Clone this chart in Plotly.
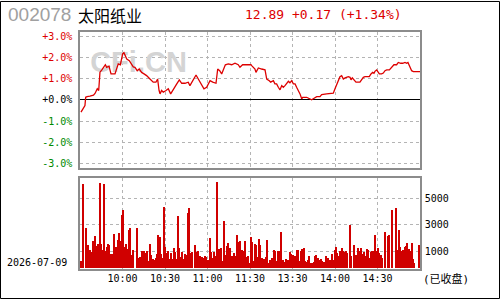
import plotly.graph_objects as go

# ---------------- data ----------------
stock_code = "002078"
stock_name = "太阳纸业"
last_price = 12.89
change = 0.17
change_pct = 1.34
prev_close = 12.72
trade_date = "2026-07-09"
status_text = "(已收盘)"

# minutes since 9:30 (trading minutes, lunch break removed) and % change vs prev close
price_t = [0.7, 2.8, 3.5, 4.0, 5.0, 7.0, 8.3, 9.5, 10.6, 11.5, 12.2, 13.2, 14.1, 15.3, 16.9,
           17.9, 18.8, 20.5, 21.2, 21.9, 24.7, 25.9, 27.0, 28.5, 30.1, 31.0, 31.7, 33.0, 34.8,
           36.5, 37.6, 38.8, 40.4, 41.8, 43.5, 45.2, 47.0, 49.4, 51.7, 53.6, 54.8, 55.8, 56.5,
           57.6, 58.8, 60.7, 62.3, 64.0, 65.9, 68.3, 70.1, 71.8, 74.1, 76.4, 77.6, 80.0, 81.9,
           83.5, 85.2, 87.5, 89.4, 91.8, 93.7, 96.0, 97.2, 98.6, 100.0, 101.6, 102.6, 104.7,
           107.1, 109.4, 111.7, 112.9, 114.8, 120.0,
           120.7, 121.2, 122.4, 123.5, 124.2, 125.2, 125.9, 128.2, 130.6, 131.8, 132.9, 133.6,
           134.6, 135.3, 136.5, 137.6, 138.8, 140.0, 141.2, 142.4, 143.5, 144.7, 145.9, 147.1,
           148.2, 149.4, 150.6, 151.8, 152.9, 154.1, 155.3, 156.5, 157.2, 160.0, 162.4, 163.5,
           164.7, 167.1, 169.4, 170.6, 174.1, 176.5, 178.8, 180.0, 181.2, 182.4, 183.5, 184.7,
           185.9, 187.1, 188.2, 189.4, 190.6, 191.3, 192.2, 193.4, 194.8, 197.6, 198.8, 200.0,
           201.2, 204.2, 205.4, 206.6, 207.5, 208.2, 209.4, 210.6, 211.3, 212.9, 214.1, 215.3,
           216.5, 218.4, 220.0, 221.6, 223.5, 224.7, 226.4, 227.8, 229.4, 230.6, 231.5, 232.5,
           233.4, 234.1, 235.3, 240.0]
price_pct = [-0.58, -0.36, -0.27, 0.12, 0.15, 0.17, 0.19, 0.22, 0.30, 0.40, 0.52, 0.44, 1.30, 1.40, 1.53,
             1.65, 1.53, 1.58, 1.40, 1.22, 1.22, 1.53, 1.69, 1.65, 2.16, 2.22, 2.10, 1.92, 1.84,
             1.69, 1.55, 1.53, 1.37, 1.45, 1.29, 1.22, 1.14, 0.98, 0.83, 0.83, 0.98, 0.44, 0.28,
             0.44, 0.36, 0.44, 0.52, 0.28, 0.52, 0.75, 0.94, 0.78, 0.78, 0.83, 0.67, 0.98, 1.17,
             0.98, 0.78, 0.52, 0.59, 0.90, 0.83, 0.78, 1.45, 1.37, 1.22, 1.45, 1.65, 1.69,
             1.65, 1.72, 1.65, 1.53, 1.65, 1.65,
             1.65, 1.61, 1.53, 1.45, 1.29, 1.45, 1.50, 1.45, 1.41, 0.98, 0.94, 0.90,
             0.83, 0.87, 0.90, 0.75, 0.75, 0.59, 0.47, 0.67, 0.59, 0.67, 0.75, 0.87,
             0.80, 0.90, 0.75, 0.75, 0.59, 0.44, 0.28, 0.05, 0.12, 0.12, 0.05, 0.00,
             0.05, 0.15, 0.15, 0.25, 0.28, 0.31, 0.31, 0.52, 0.75, 0.94, 1.09, 1.14,
             0.98, 1.03, 1.06, 1.09, 1.06, 0.94, 1.03, 0.94, 0.83, 0.83, 0.94, 1.06,
             1.09, 1.09, 1.22, 1.29, 1.25, 1.34, 1.41, 1.29, 1.22, 1.22, 1.26, 1.37,
             1.41, 1.41, 1.53, 1.65, 1.65, 1.76, 1.72, 1.72, 1.76, 1.72, 1.76, 1.61,
             1.45, 1.37, 1.33, 1.33]

vol_t = [1, 2.4, 4.5, 5.9, 7.4, 8.1, 9.5, 10.2, 10.9, 12.3, 13, 14.4, 15.1, 15.8, 17.2, 17.9, 19.4,
         20.1, 20.8, 22.2, 22.9, 24.3, 25.7, 26.4, 27.1, 27.8, 29.2, 29.9, 30.6, 32.1, 32.8, 34.2,
         34.9, 35.6, 37, 37.7, 40.5, 41.9, 42.6, 44.1, 44.8, 45.5, 46.9, 47.6, 49, 49.7, 50.4, 51.8,
         52.5, 53.9, 54.6, 55.4, 56.8, 57.5, 58.9, 59.6, 60.3,
         61.7, 62.4, 63.8, 64.5, 65.2, 66.6, 67.3, 68.8, 69.5, 70.2, 71.6, 72.3, 73.7, 74.4, 75.1,
         76.5, 77.2, 78.6, 79.3, 81.5, 82.2, 83.6, 84.3, 85, 86.4, 87.1, 88.5, 89.2, 90.6, 92,
         92.8, 93.5, 94.2, 94.9, 96.3, 97, 98.4, 99.1, 99.8, 101.2, 101.9, 103.4, 104.1, 104.8,
         106.2, 106.9, 108.3, 109, 110.4, 111.1, 111.8, 113.2, 113.9, 114.6, 116, 116.8, 118.2,
         118.9, 119.6, 121,
         121.7, 122.4, 123.8, 124.5, 125.9, 126.6, 127.3, 128.8, 129.5, 130.9, 131.6, 132.3, 133.7,
         134.4, 135.8, 137.2, 137.9, 138.6, 140.1, 140.8, 141.5, 142.2, 143.6, 144.3, 145.7, 146.4,
         147.1, 148.5, 149.2, 150.6, 151.3, 152, 153.5, 154.2, 155.6, 156.3, 157, 158.4, 159.1,
         160.5, 161.2, 161.9, 163.3, 164.1, 165.5, 166.2, 166.9, 168.3, 169, 170.4, 171.1, 172.5,
         173.9, 174.6, 175.3, 176.8, 178.2, 178.9, 180.3, 181, 181.7,
         183.1, 183.8, 185.2, 185.9, 187.4, 188.1, 188.8, 190.9, 191.6, 193.7, 195.1, 196.5, 197.2,
         198.6, 200.1, 200.8, 201.5, 202.9, 203.6, 205, 205.7, 206.4, 207.8, 208.5, 209.2, 210.6,
         211.4, 212.8, 213.5, 215.6, 217.7, 218.4, 220.5, 223.4, 224.8, 225.5, 226.2, 227.6, 228.3,
         229.7, 230.4, 231.1, 232.5, 233.2, 234.6, 235.4, 236.1, 239.6]
vol = [250, 6075, 2775, 1450, 1075, 950, 1750, 1225, 2125, 1375, 1575, 6150, 1525, 1075, 6075, 1000, 1300,
       1525, 1450, 825, 775, 2275, 1300, 1000, 1825, 2350, 1750, 3700, 4075, 1300, 1525, 1200,
       2575, 2775, 700, 1075, 2725, 450, 550, 1000, 250, 1000, 850, 1000, 250, 1525, 700, 400,
       325, 475, 775, 2200, 2050, 775, 475, 4375, 1300,
       850, 1000, 400, 850, 400, 1225, 925, 400, 3625, 1225, 550, 925, 400, 775, 700,
       3850, 4300, 850, 925, 1450, 925, 1000, 625, 625, 550, 475, 625, 550, 325, 1975,
       925, 475, 400, 925, 625, 6250, 1150, 850, 1225, 250, 3250, 700, 1375, 1600,
       1225, 625, 625, 850, 625, 2200, 1675, 1750, 625, 1075, 1000, 1750, 550,
       625, 100, 2050,
       1675, 250, 1525, 1450, 550, 1900, 1450, 475, 400, 400, 550, 1825, 100,
       325, 475, 1075, 1000, 250, 1000, 1000, 400, 2425, 325, 175, 400, 100,
       325, 925, 775, 700, 25, 625, 1075, 1075, 250, 1000, 1150, 1225, 250,
       175, 325, 625, 100, 100, 175, 625, 700, 475, 325, 400, 250, 175,
       625, 100, 475, 325, 775, 325, 1075, 1300, 850,
       625, 1000, 1225, 1000, 925, 1000, 850, 2950, 625, 1450, 700, 1225, 1000,
       1225, 775, 925, 625, 1150, 1075, 475, 925, 1000, 1000, 2200, 1000, 1225,
       850, 700, 475, 2425, 2125, 2200, 4150, 4300, 1075, 2575, 1300, 1000, 1075,
       1300, 1375, 1600, 1150, 1000, 1600, 400, 100, 1450]

pct_ticks = [3, 2, 1, 0, -1, -2, -3]
pct_labels = ["+3.0%", "+2.0%", "+1.0%", "+0.0%", "-1.0%", "-2.0%", "-3.0%"]
price_labels = ["13.10", "12.97", "12.85", "12.72", "12.59", "12.47", "12.34"]
time_ticks = [30, 60, 90, 120, 150, 180, 210]
time_labels = ["10:00", "10:30", "11:00", "11:30", "13:30", "14:00", "14:30"]
vol_ticks = [1000, 3000, 5000]
vol_labels = ["1000", "3000", "5000"]

# ---------------- style ----------------
RED = "#dd0000"
GREEN = "#008a00"
GRID = "#b4b4b4"
FRAME = "#8c8c8c"
MONO = "DejaVu Sans Mono"
W, H = 500, 300
PCT_RANGE = [-3.2, 3.2]
VOL_RANGE = [-300, 6530]


def col(v):
    return RED if v > 0 else ("black" if v == 0 else GREEN)


left_text = [f'<span style="color:{col(p)}">{s}</span>' for p, s in zip(pct_ticks, pct_labels)]
right_text = [f'<span style="color:{col(p)}">{s}</span>' for p, s in zip(pct_ticks, price_labels)]
price_tickvals = [prev_close * (1 + p / 100) for p in pct_ticks]
price_range = [prev_close * (1 + r / 100) for r in PCT_RANGE]

fig = go.Figure()

# watermark (below the line)
fig.add_trace(go.Scatter(x=[41.3], y=[1.65], mode="text", text=["CFi.CN"],
                         textfont=dict(family="Liberation Sans", size=29, color="#d4d4d4", weight="bold"),
                         hoverinfo="skip", showlegend=False, xaxis="x", yaxis="y"))

fig.add_trace(go.Scatter(x=price_t, y=price_pct, mode="lines",
                         line=dict(color=RED, width=1.3), showlegend=False,
                         xaxis="x", yaxis="y"))

fig.add_trace(go.Bar(x=vol_t, y=[v - VOL_RANGE[0] for v in vol], base=VOL_RANGE[0],
                     width=0.9, marker=dict(color="#d00000", line=dict(width=0)),
                     showlegend=False, xaxis="x2", yaxis="y3"))

xdom = [80 / W, 420 / W]
common_x = dict(range=[0, 240], domain=xdom, tickvals=time_ticks, showgrid=True,
                gridcolor=GRID, griddash="dot", gridwidth=1, zeroline=False,
                showline=True, mirror=True, linecolor=FRAME, linewidth=1.5, ticks="",
                fixedrange=True)

fig.update_layout(
    width=W, height=H,
    margin=dict(l=0, r=0, t=0, b=0),
    paper_bgcolor="white", plot_bgcolor="white",
    bargap=0,
    xaxis=dict(**common_x, anchor="y", showticklabels=False),
    yaxis=dict(domain=[1 - 168 / H, 1 - 31 / H], range=PCT_RANGE, tickvals=pct_ticks,
               ticktext=left_text, tickfont=dict(family=MONO, size=10),
               showgrid=True, gridcolor=GRID, griddash="dot", gridwidth=1,
               zeroline=True, zerolinecolor="black", zerolinewidth=1.2,
               showline=True, mirror=True, linecolor=FRAME, linewidth=1.5,
               ticks="", ticklabelstandoff=4, fixedrange=True, anchor="x"),
    yaxis2=dict(overlaying="y", side="right", range=price_range, tickvals=price_tickvals,
                ticktext=right_text, tickfont=dict(family=MONO, size=10), showgrid=False,
                zeroline=False, showline=False, ticks="", ticklabelstandoff=1,
                fixedrange=True, anchor="x"),
    xaxis2=dict(**common_x, anchor="y3", ticktext=time_labels,
                tickfont=dict(family=MONO, size=10, color="black"), ticklabelstandoff=0),
    yaxis3=dict(domain=[1 - 269.3 / H, 1 - 178.3 / H], range=VOL_RANGE, side="right",
                tickvals=vol_ticks, ticktext=vol_labels,
                tickfont=dict(family=MONO, size=10, color="black"),
                showgrid=True, gridcolor=GRID, griddash="dot", gridwidth=1, zeroline=False,
                showline=True, mirror=True, linecolor=FRAME, linewidth=1.5, ticks="",
                ticklabelstandoff=1, fixedrange=True, anchor="x2"),
    shapes=[dict(type="rect", xref="paper", yref="paper", x0=0.5 / W, x1=1 - 0.5 / W,
                 y0=0.5 / H, y1=1 - 0.5 / H, line=dict(color="black", width=1))],
    annotations=[
        dict(text=stock_code, xref="paper", yref="paper", x=6 / W, y=1 - 14 / H,
             xanchor="left", yanchor="middle", showarrow=False,
             font=dict(family="Liberation Sans", size=19, color="#a0a0a0")),
        dict(text=stock_name, xref="paper", yref="paper", x=76 / W, y=1 - 14 / H,
             xanchor="left", yanchor="middle", showarrow=False,
             font=dict(family="Noto Sans CJK SC", size=16, color="black")),
        dict(text=f"{last_price:.2f} {change:+.2f} ({change_pct:+.2f}%)", xref="paper", yref="paper",
             x=243 / W, y=1 - 14 / H, xanchor="left", yanchor="middle", showarrow=False,
             font=dict(family=MONO, size=13, color=RED)),
        dict(text=trade_date, xref="paper", yref="paper", x=5 / W, y=1 - 263 / H,
             xanchor="left", yanchor="middle", showarrow=False,
             font=dict(family=MONO, size=10, color="black")),
        dict(text=status_text, xref="paper", yref="paper", x=421 / W, y=1 - 280 / H,
             xanchor="left", yanchor="middle", showarrow=False,
             font=dict(family=f"{MONO}, Noto Sans CJK SC", size=11, color="black")),
    ],
)

fig.write_html("out.html")
